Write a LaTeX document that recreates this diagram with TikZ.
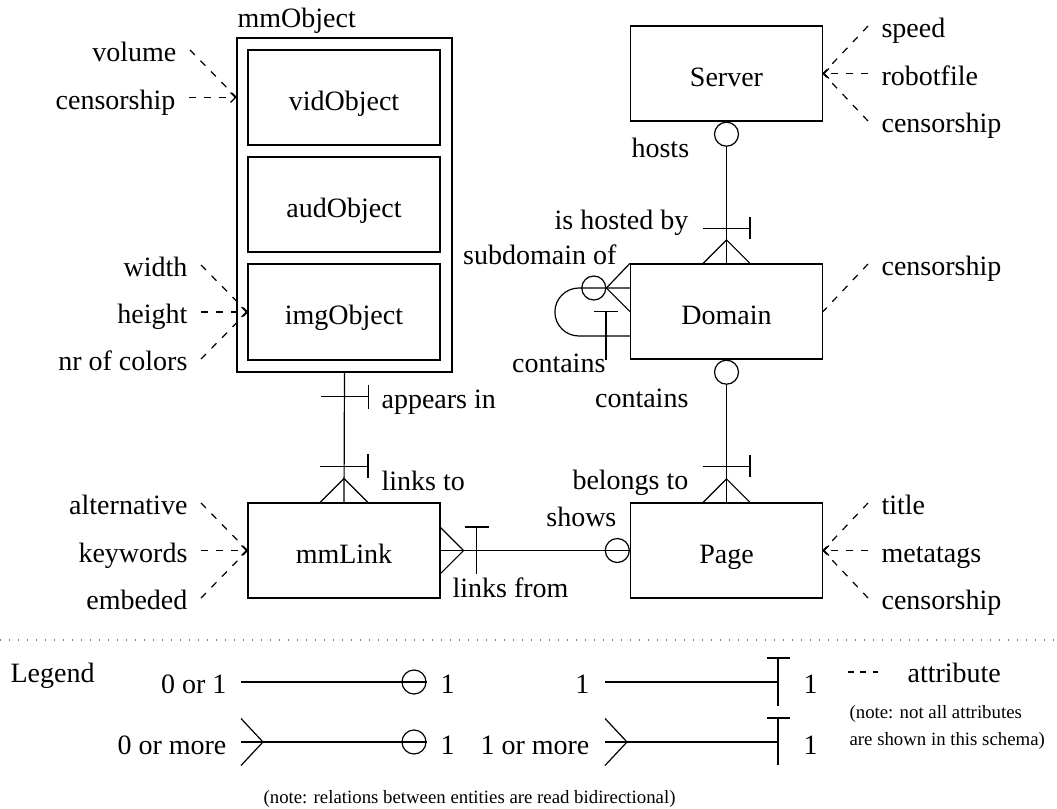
\documentclass[tikz,border=0pt]{standalone}
\usepackage{fontspec}
\setmainfont{Liberation Serif}
\usetikzlibrary{arrows.meta}
\tikzset{
  entity/.style={draw, minimum width=96pt, minimum height=47.5pt, inner sep=0pt, text height=12.5pt, text depth=0pt},
  zero/.style={draw, circle, minimum size=12pt, inner sep=0pt},
  rel/.style={inner sep=0pt},
  attr/.style={dash pattern=on 3.5pt off 4pt},
  attrto/.style={attr, -{Straight Barb[length=2.5pt,width=5pt]}},
  lattr/.style={anchor=east, inner xsep=6.5pt, inner ysep=0pt, text height=11.5pt, text depth=0pt},
  rattr/.style={lattr, anchor=west},
  small/.style={inner sep=0pt, font=\fontsize{9.4}{11}\selectfont},
}
\begin{document}
\begin{tikzpicture}[x=0.5pt,y=-0.5pt,font=\fontsize{14}{16}\selectfont,line width=0.6pt]
    \useasboundingbox (0,0) rectangle (1057,809);

    % entities
    \node[draw, minimum width=107.5pt, minimum height=167pt, inner sep=0pt] (mmo) at (344.5,205) {};
    \node[rel, anchor=base west] (lMmo) at (237,27) {mmObject};
    \node[entity] (vid) at (344,97.5) {vidObject};
    \node[entity] (aud) at (344,204.5) {audObject};
    \node[entity, minimum height=48pt] (img) at (344,312) {imgObject};
    \node[entity] (lnk) at (344,550.5) {mmLink};
    \node[entity] (srv) at (726.5,73.5) {Server};
    \node[entity] (dom) at (726.5,311.5) {Domain};
    \node[entity] (pag) at (726.5,550.5) {Page};

    % attributes
    \node[lattr] (aVolume) at (190,50) {volume};
    \node[lattr] (aCensV) at (189,97.5) {censorship};
    \node[lattr] (aWidth) at (201,265) {width};
    \node[lattr] (aHeight) at (201,312) {height};
    \node[lattr] (aColors) at (201,359) {nr of colors};
    \node[lattr] (aAlt) at (201,503) {alternative};
    \node[lattr] (aKeys) at (201,550.5) {keywords};
    \node[lattr] (aEmbed) at (201,598) {embeded};
    \node[rattr] (aSpeed) at (868,26) {speed};
    \node[rattr] (aRobot) at (868,73.5) {robotfile};
    \node[rattr] (aCensS) at (868,121) {censorship};
    \node[rattr] (aCensD) at (868,264) {censorship};
    \node[rattr] (aTitle) at (868,503) {title};
    \node[rattr] (aMeta) at (868,550.5) {metatags};
    \node[rattr] (aCensP) at (868,598) {censorship};

    \draw[attr] (aVolume.east) -- (mmo.west |- vid);
    \draw[attrto] (aCensV.east) -- (mmo.west |- vid);
    \draw[attr] (aWidth.east) -- (img.west);
    \draw[attrto] (aHeight.east) -- (img.west);
    \draw[attr] (aColors.east) -- (img.west);
    \draw[attr] (aAlt.east) -- (lnk.west);
    \draw[attrto] (aKeys.east) -- (lnk.west);
    \draw[attr] (aEmbed.east) -- (lnk.west);
    \draw[attr] (aSpeed.west) -- (srv.east);
    \draw[attrto] (aRobot.west) -- (srv.east);
    \draw[attr] (aCensS.west) -- (srv.east);
    \draw[attr] (aCensD.west) -- (dom.east);
    \draw[attr] (aTitle.west) -- (pag.east);
    \draw[attrto] (aMeta.west) -- (pag.east);
    \draw[attr] (aCensP.west) -- (pag.east);

    % Server -- Domain
    \node[zero, anchor=north] (cSrv) at (srv.south) {};
    \draw (cSrv.south) -- (dom.north);
    \draw ([shift={(-23.5,-35)}]dom.north) -- ++(47,0) ++(0,-11) -- ++(0,22);
    \draw (dom.north) ++(-23.5,0) -- ++(23.5,-23.5) -- ++(23.5,23.5);
    \node[rel, anchor=base west] (rHosts) at (631,157) {hosts};
    \node[rel, anchor=base east] (rHostedBy) at (689,229) {is hosted by};

    % Domain -- Domain
    \node[zero, anchor=east] (cLoop) at ([shift={(-23.5,-23.5)}]dom.west) {};
    \draw (dom.north west) -- (cLoop.east) -- (dom.west);
    \draw ([shift={(0,-23.5)}]dom.west) -- ++(-51,0) arc[start angle=90, end angle=270, radius=12pt] -- ++(51,0);
    \draw ([shift={(-24,0)}]dom.west) -- ++(0,48) ([shift={(-36,0)}]dom.west) -- ++(24,0);
    \node[rel, anchor=base east] (rSubOf) at (617,264) {subdomain of};
    \node[rel, anchor=base east] (rContLoop) at (606,372) {contains};

    % Domain -- Page
    \node[zero, anchor=north] (cDom) at (dom.south) {};
    \draw (cDom.south) -- (pag.north);
    \draw ([shift={(-23.5,-36)}]pag.north) -- ++(47,0) ++(0,-11) -- ++(0,22);
    \draw (pag.north) ++(-23.5,0) -- ++(23.5,-23.5) -- ++(23.5,23.5);
    \node[rel, anchor=base east] (rContains) at (689,407) {contains};
    \node[rel, anchor=base east] (rBelongs) at (689,489) {belongs to};

    % mmObject -- mmLink
    \draw (mmo.south) -- (lnk.north);
    \draw ([shift={(-24,24)}]mmo.south) -- ++(48,0) ++(0,-12) -- ++(0,24);
    \draw ([shift={(-24,-36)}]lnk.north) -- ++(48,0) ++(0,-12) -- ++(0,24);
    \draw (lnk.north) ++(-24,0) -- ++(24,-24) -- ++(24,24);
    \node[rel, anchor=base west] (rAppears) at (381,408) {appears in};
    \node[rel, anchor=base west] (rLinksTo) at (381,490) {links to};

    % mmLink -- Page
    \node[zero, anchor=east] (cPag) at (pag.west) {};
    \draw (lnk.east) -- (pag.west);
    \draw (lnk.east) ++(0,-23) -- ++(23,23) -- ++(-23,23);
    \draw ([shift={(36,-23.5)}]lnk.east) -- ++(0,47) ([shift={(24,-23.5)}]lnk.east) -- ++(24,0);
    \node[rel, anchor=base west] (rLinksFrom) at (452,597) {links from};
    \node[rel, anchor=base east] (rShows) at (617,526) {shows};

    % legend
    \draw[gray, dash pattern=on 0.6pt off 3.9pt] (0,640) -- (1057,640);
    \node[rel, anchor=base west] (kLegend) at (10,682) {Legend};

    \coordinate (l1a) at (241,682);
    \node[zero] (cL1) at (414,682) {};
    \draw (l1a) -- (cL1.east);
    \node[rel, anchor=base east] (k01) at (227,693) {0 or 1};
    \node[rel, anchor=base west] (k01b) at (440,693) {1};

    \coordinate (l2a) at (241,742);
    \node[zero] (cL2) at (414,742) {};
    \draw (l2a) -- (cL2.east);
    \draw (l2a) ++(0,-23.5) -- ++(22,23.5) -- ++(-22,23.5);
    \node[rel, anchor=base east] (k0m) at (227,754) {0 or more};
    \node[rel, anchor=base west] (k0mb) at (440,754) {1};

    \coordinate (r1a) at (605,682);
    \coordinate (r1b) at (778,682);
    \draw (r1a) -- (r1b);
    \draw ([shift={(0,-24)}]r1b) -- ++(0,48) ([shift={(-11.5,-24)}]r1b) -- ++(23,0);
    \node[rel, anchor=base east] (k11) at (590,693) {1};
    \node[rel, anchor=base west] (k11b) at (803,693) {1};

    \coordinate (r2a) at (605,742);
    \coordinate (r2b) at (778,742);
    \draw (r2a) -- (r2b);
    \draw (r2a) ++(0,-23.5) -- ++(22,23.5) -- ++(-22,23.5);
    \draw ([shift={(0,-24)}]r2b) -- ++(0,47) ([shift={(-11.5,-24)}]r2b) -- ++(23,0);
    \node[rel, anchor=base east] (k1m) at (590,754) {1 or more};
    \node[rel, anchor=base west] (k1mb) at (803,754) {1};

    \coordinate (kAttrA) at (848,672);
    \coordinate (kAttrB) at (878,672);
    \draw[dash pattern=on 2.8pt off 3.4pt] (kAttrA) -- (kAttrB);
    \node[rel, anchor=base west] (kAttr) at (907,682) {attribute};
    \node[small, anchor=base west] (kNote1) at (849,718) {(note: not all attributes};
    \node[small, anchor=base west] (kNote2) at (849,745) {are shown in this schema)};
    \node[small, anchor=base west] (kNote3) at (263,803) {(note: relations between entities are read bidirectional)};
\end{tikzpicture}
\end{document}
